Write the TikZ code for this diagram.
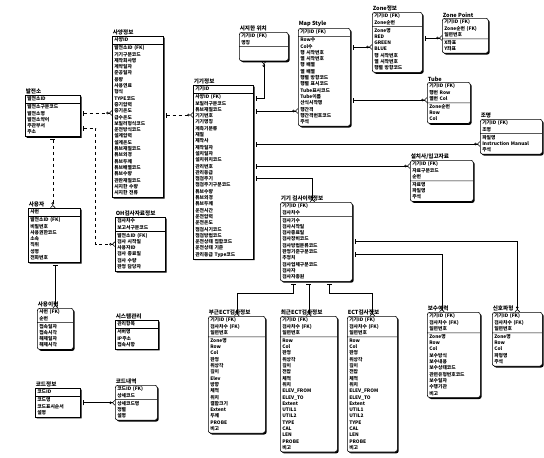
\documentclass[tikz,border=0pt]{standalone}
\usepackage{fontspec}
\setmainfont{Noto Sans CJK KR}
\usetikzlibrary{arrows.meta, shapes.multipart, shadows}
\newcommand\erdfont{\fontsize{4.8}{6.3}\selectfont\bfseries}
\newcommand\rows[1]{\foreach \r [count=\i] in {#1}{\ifnum\i>1 \newline\relax\fi\smash{\r}\rule[-1.7pt]{0pt}{6.2pt}}}

\begin{document}
\begin{tikzpicture}[x=1pt, y=-1pt,
    ent/.style={rectangle split, rectangle split parts=2, draw, line width=0.6pt, fill=white,
        anchor=north west, text width=#1, align=left, inner xsep=2pt, inner ysep=0.6pt,
        font=\erdfont,
        drop shadow={shadow xshift=1.4pt, shadow yshift=-1.4pt, fill=black, opacity=1}},
    dep/.style={ent=#1, rounded corners=2.5pt},
    ttl/.style={anchor=south west, inner sep=0.6pt, font=\fontsize{5.6}{6}\selectfont\bfseries},
    rel/.style={line width=0.6pt, {Bar[width=5pt,sep=2.5pt]}-{Circle[open,length=2.6pt,sep=0.3pt]Straight Barb[reversed,length=2.2pt,width=4.6pt]}}]
    \fill[white] (0,0) rectangle (544,458);
    \useasboundingbox (0,0) rectangle (544,458);

    \node[ent=51pt, label={[ttl]north west:발전소}] (bal) at (25,95)
        {\rows{발전소ID} \nodepart{two} \rows{발전소구분코드, 발전소명, 발전소약어, 주관부서, 주소}};
    \node[ent=47pt, label={[ttl]north west:사양정보}] (spec) at (112,36)
        {\rows{사양ID} \nodepart{two} \rows{발전소ID (FK), 기기구분코드, 제작회사명, 계약일자, 준공일자, 용량, 사용연료, 형식, TYPE코드, 증기압력, 증기온도, 급수온도, 보일러형식코드, 운전방식코드, 설계압력, 설계온도, 튜브재질코드, 튜브외경, 튜브두께, 튜브배열코드, 튜브수량, 관판재질코드, 시지한 수량, 시지한 전류}};
    \node[ent=56pt, label={[ttl]north west:기기정보}] (gigi) at (193,85)
        {\rows{기기ID} \nodepart{two} \rows{사양ID (FK), 보일러구분코드, 튜브재질코드, 기기번호, 기기명칭, 계측기분류, 재질, 제작사, 제작일자, 설치일자, 설치위치코드, 관리번호, 관리등급, 점검주기, 점검주기구분코드, 튜브수량, 튜브외경, 튜브두께, 운전시간, 운전압력, 운전온도, 점검시기코드, 점검방법코드, 운전상태 집합코드, 운전상태 기준, 관리등급 Type코드}};
    \node[dep=45pt, label={[ttl]north west:시지한 위치}] (sj) at (239,32)
        {\rows{기기ID (FK), 명칭} \nodepart{two} \rows{\mbox{}, \mbox{}}};
    \node[dep=48pt, label={[ttl]north west:Map Style}] (ms) at (298,28)
        {\rows{기기ID (FK)} \nodepart{two} \rows{Row수, Col수, 행 시작번호, 열 시작번호, 행 배열, 열 배열, 행렬 방향코드, 행렬 표시코드, Tube표시코드, Tube이름, 산식시작행, 행간격, 행간격번호코드, 주석}};
    \node[dep=46pt, label={[ttl]north west:Zone정보}] (zone) at (372,12)
        {\rows{기기ID (FK), Zone순번} \nodepart{two} \rows{Zone명, RED, GREEN, BLUE, 행 시작번호, 열 시작번호, 행렬 방향코드}};
    \node[dep=42pt, label={[ttl]north west:Zone Point}] (zp) at (442,18)
        {\rows{기기ID (FK), Zone순번 (FK), 일련번호} \nodepart{two} \rows{X좌표, Y좌표}};
    \node[dep=39pt, label={[ttl]north west:Tube}] (tube) at (427,82)
        {\rows{기기ID (FK), 행번 Row, 열번 Col} \nodepart{two} \rows{Zone순번, Row, Col}};
    \node[dep=58pt, label={[ttl]north west:조명}] (light) at (480,119)
        {\rows{기기ID (FK), 조명} \nodepart{two} \rows{파일명, Instruction Manual, 주석}};
    \node[dep=59pt, label={[ttl]north west:설치사/입고자료}] (doc) at (410,160)
        {\rows{기기ID (FK), 자료구분코드, 순번} \nodepart{two} \rows{자료명, 파일명, 주석}};
    \node[dep=68pt, label={[ttl]north west:기기 검사이력정보}] (gumsa) at (280,202)
        {\rows{기기ID (FK), 검사차수} \nodepart{two} \rows{검사기수, 검사시작일, 검사종료일, 검사장비코드, 검사방법분류코드, 판정기준구분코드, 추정치, 검사업체구분코드, 검사자, 검사자총원}};
    \node[dep=53pt, label={[ttl]north west:부근ECT검사정보}] (ect1) at (208,316)
        {\rows{기기ID (FK), 검사차수 (FK), 일련번호} \nodepart{two} \rows{Zone명, Row, Col, 판정, 위상각, 깊이, Elev, 방향, 체적, 위치, 결함크기, Extent, 두께, PROBE, 비고}};
    \node[dep=53pt, label={[ttl]north west:최근ECT검사정보}] (ect2) at (280,316)
        {\rows{기기ID (FK), 검사차수 (FK), 일련번호} \nodepart{two} \rows{Row, Col, 판정, 위상각, 깊이, 전압, 체적, 위치, ELEV\_FROM, ELEV\_TO, Extent, UTIL1, UTIL2, TYPE, CAL, LEN, PROBE, 비고}};
    \node[dep=46pt, label={[ttl]north west:ECT검사정보}] (ect3) at (347,316)
        {\rows{기기ID (FK), 검사차수 (FK), 일련번호} \nodepart{two} \rows{Row, Col, 판정, 위상각, 깊이, 전압, 체적, 위치, ELEV\_FROM, ELEV\_TO, Extent, UTIL1, UTIL2, TYPE, CAL, LEN, PROBE, 비고}};
    \node[dep=49pt, label={[ttl]north west:보수이력}] (bosu) at (427,312)
        {\rows{기기ID (FK), 검사차수 (FK), 일련번호} \nodepart{two} \rows{Zone명, Row, Col, 보수방식, 보수내용, 보수상태코드, 관련유형번호코드, 보수일자, 수행기관, 비고}};
    \node[dep=46pt, label={[ttl]north west:신호파형}] (pa) at (492,312)
        {\rows{기기ID (FK), 검사차수 (FK), 일련번호} \nodepart{two} \rows{Zone명, Row, Col, 파형명, 주석}};
    \node[ent=48pt, label={[ttl]north west:사용자}] (user) at (28,208)
        {\rows{사번} \nodepart{two} \rows{발전소ID (FK), 비밀번호, 사용권한코드, 소속, 직위, 성명, 전화번호}};
    \node[dep=32pt, label={[ttl]north west:사용이력}] (log) at (37,308)
        {\rows{사번 (FK), 순번} \nodepart{two} \rows{접속일자, 접속시각, 해제일자, 해제시각}};
    \node[ent=46pt, label={[ttl]north west:OH검사자료정보}] (oh) at (115,217)
        {\rows{검사차수, 보고서구분코드} \nodepart{two} \rows{발전소ID (FK), 검사 시작일, 사용자ID, 검사 종료일, 검사 수량, 판정 담당자}};
    \node[ent=39pt, label={[ttl]north west:시스템관리}] (sys) at (115,320)
        {\rows{관리항목} \nodepart{two} \rows{서버명, IP주소, 접속사항}};
    \node[ent=41pt, label={[ttl]north west:코드정보}] (code) at (35,388)
        {\rows{코드ID} \nodepart{two} \rows{코드명, 코드표시순서, 설명}};
    \node[dep=38pt, label={[ttl]north west:코드내역}] (codelist) at (115,385)
        {\rows{코드ID (FK), 상세코드} \nodepart{two} \rows{상세코드명, 정렬, 설명}};

    \coordinate (bs) at ([yshift=-18pt]bal.north east);
    \draw[rel, dashed] (bs) -- (bs -| spec.west);
    \coordinate (sg) at ([yshift=-79pt]spec.north east);
    \draw[rel, dashed] (sg) -- (sg -| gigi.west);
    \coordinate (bo) at ([yshift=-33pt]bal.north east);
    \draw[rel, dashed] (bo) -- ++(15,0) |- (oh.west);
    \draw[rel, dashed] (bal.south) -- (bal.south |- user.north);
    \draw[rel] (log.north |- user.south) -- (log.north);
    \draw[rel] (codelist.west -| code.east) -- (codelist.west);

    \coordinate (gw) at ([yshift=-13pt]gigi.north east);
    \draw[rel] (gw) -| (sj.south);
    \coordinate (gm) at ([yshift=-26pt]gigi.north east);
    \draw[rel] (gm) -- (gm -| ms.west);
    \coordinate (mz) at ([yshift=-19pt]ms.north east);
    \draw[rel] (mz) -- (mz -| zone.west);
    \coordinate (zz) at ([yshift=-26pt]zone.north east);
    \draw[rel] (zz) -- (zz -| zp.west);
    \coordinate (mt) at ([yshift=-72pt]ms.north east);
    \draw[rel] (mt) -- (mt -| tube.west);
    \coordinate (gl) at ([yshift=-59pt]gigi.north east);
    \draw[rel] (gl) -- (gl -| light.west);
    \coordinate (gd) at ([yshift=-81pt]gigi.north east);
    \draw[rel] (gd) -- (gd -| doc.west);
    \coordinate (gg) at ([yshift=-93pt]gigi.north east);
    \draw[rel] (gg) -| ([xshift=-4pt]gumsa.north);

    \coordinate (gp) at ([yshift=-39pt]gumsa.north east);
    \draw[rel] (gp) -| (pa.north);
    \coordinate (gb) at ([yshift=-52pt]gumsa.north east);
    \draw[rel] (gb) -| ([xshift=-12pt]bosu.north);
    \draw[rel] ([xshift=-23pt]gumsa.south) -- ++(0,12) -| (ect1.north);
    \draw[rel] (ect2.north |- gumsa.south) -- (ect2.north);
    \draw[rel] ([xshift=13pt]gumsa.south) -- ++(0,12) -| (ect3.north);
\end{tikzpicture}
\end{document}
